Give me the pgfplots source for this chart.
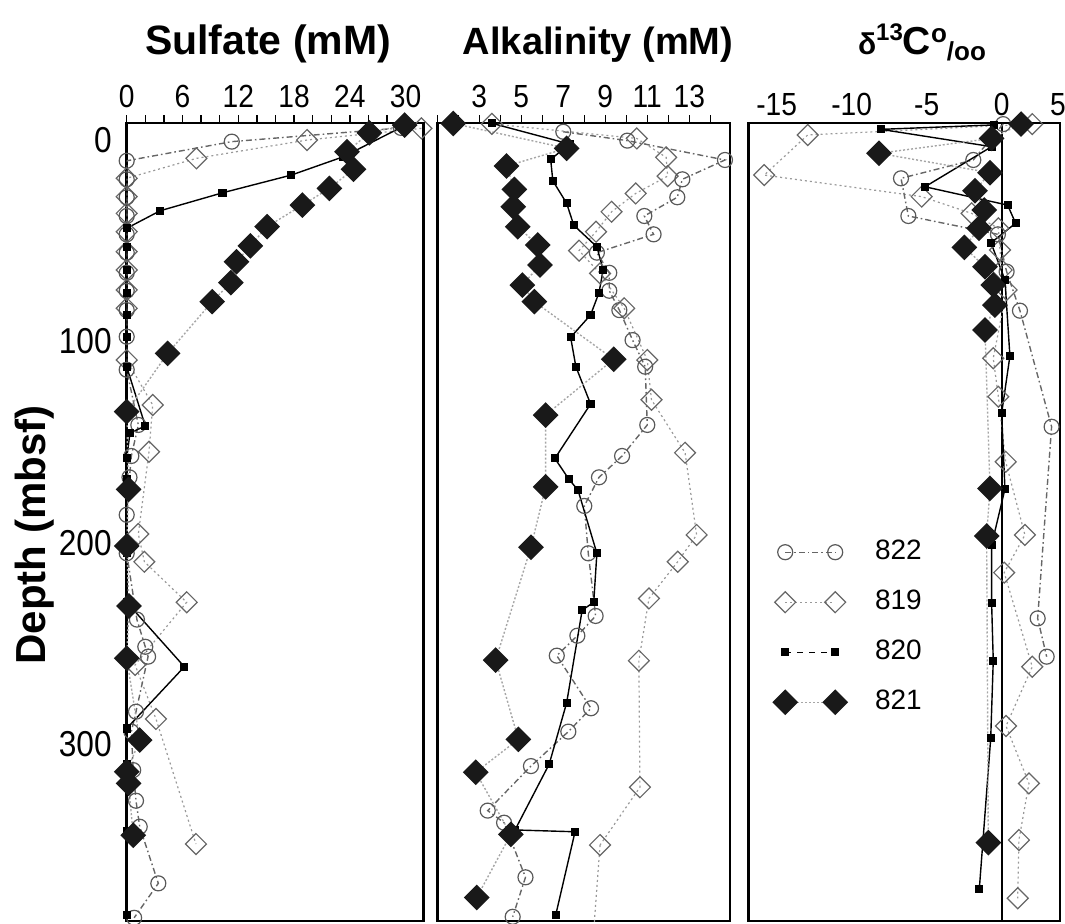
\documentclass[border=0pt]{standalone}
\usepackage{pgfplots}
\pgfplotsset{compat=1.18}
\usepackage{fontspec}
\setmainfont{Liberation Sans}
\newfontfamily\narrow[FakeStretch=0.88]{Liberation Sans}

\pgfplotsset{
  panel/.style={
    scale only axis, anchor=north west, height=399pt,
    y dir=reverse, ymin=-8.44, ymax=387.6,
    axis line style={line width=1.3pt},
    xtick pos=upper, xticklabel pos=upper,
    tick align=outside, major tick length=4pt,
    tick style={line width=0.7pt, black},
    ytick=\empty,
    tick label style={font=\narrow\fontsize{16}{18}\selectfont},
    legend image code/.code={\draw[mark repeat=2,mark phase=1,##1] plot coordinates {(0pt,0pt) (12.5pt,0pt) (25pt,0pt)};},
  },
  s822/.style={color=black!60, line width=0.7pt, dash pattern=on 3pt off 1.5pt on 0.8pt off 1.5pt,
    mark=o, mark size=3.75pt, mark options={solid, draw=black!65, line width=0.6pt}},
  s819/.style={color=black!40, line width=0.6pt, dash pattern=on 1pt off 1.5pt,
    mark=square, mark size=3.7pt, mark options={solid, rotate=45, draw=black!60, line width=0.6pt}},
  s820/.style={color=black, line width=0.7pt, solid,
    mark=square*, mark size=1.7pt, mark options={solid, fill=black}},
  s821/.style={color=black!35, line width=0.7pt, dash pattern=on 1pt off 1pt,
    mark=square*, mark size=4.2pt, mark options={solid, rotate=45, fill=black!90, draw=black!90}},
}

\begin{document}
\begin{tikzpicture}
\useasboundingbox (0pt,0pt) rectangle (532.5pt,-461.5pt);

% ---------------- Sulfate ----------------
\begin{axis}[panel, at={(63.35pt,-61.5pt)}, width=148.3pt,
  xmin=0, xmax=31.9,
  xtick={0,2,...,30}, xticklabels={0,,,6,,,12,,,18,,,24,,,30},
  ytick={0,100,200,300}, yticklabels={0,100,200,300},
  ytick style={draw=none},
  yticklabel style={font=\narrow\fontsize{18}{20}\selectfont},
]
\addplot[s819] coordinates {(31.7,-5.8)(19.4,0)(7.5,9.1)(0,19.0)(0,28.1)(0,36.4)(0,45.5)(0,55.4)(0,64.5)(0,74.4)(0,83.5)(0,109.2)(2.8,131.5)(2.4,154.7)(1.25,195.5)(1.9,209.3)(6.45,229.4)(0.9,260.5)(3.15,287.3)(7.45,349.4)};
\addplot[s822] coordinates {(29.5,-6)(11.3,0.8)(0,10.3)(0,19.5)(0,28.4)(0,37.7)(0,46.8)(0,55.9)(0,65.9)(0,74.8)(0,84.4)(0,97.6)(0,114)(1.25,141.4)(0.5,156.8)(0.3,167.4)(0,186)(0,205.1)(1.1,238)(2.0,251.5)(2.3,256.4)(1.0,283.7)(0.5,293.6)(0.7,312.7)(1.0,327.9)(1.4,340.8)(3.4,368.9)(0.8,386)};
\addplot[s820] coordinates {(29.6,-6.5)(23.3,8.3)(17.7,17.4)(10.3,26.2)(3.6,35.1)(0,43.8)(0,53)(0,64.5)(0,75.8)(0,86.8)(0,97.9)(0,112.5)(2.0,141.9)(0.35,145.4)(0,158)(0,168.4)(0,173.7)(0,205.1)(0,229.4)(6.2,261.4)(0,292)(0,309.7)(0,343)(0,384.6)};
\addplot[s821] coordinates {(29.9,-7.4)(26.1,-3.6)(23.7,5.8)(24.4,14.5)(21.8,24.0)(18.9,32.3)(15.1,43.0)(13.3,52.5)(11.8,60.4)(11.2,70.8)(9.2,80.2)(4.4,105.9)(0,134.8)(0.2,173.4)(0,201.5)(0.25,231.3)(0,257.2)(1.4,297.8)(0,313.5)(0.2,319.3)(0.7,345.0)};
\end{axis}

% ---------------- Alkalinity ----------------
\begin{axis}[panel, at={(218.65pt,-61.5pt)}, width=146.35pt,
  xmin=1, xmax=14.94,
  xtick={1,...,14}, xticklabels={,,3,,5,,7,,9,,11,,13,},
]
\addplot[s819] coordinates {(3.6,-8)(10.5,-0.8)(11.9,8.6)(11.97,17.9)(10.45,26.5)(9.3,35.6)(8.56,45.5)(7.75,54.9)(8.75,66.2)(9.9,83.5)(11.0,109.2)(11.2,128.9)(12.8,155.2)(13.35,196)(12.45,209.3)(11.08,227.5)(10.6,258.4)(10.65,321.2)(8.75,349.9)};
\addplot[s819, mark=none, forget plot] coordinates {(8.75,349.9)(8.43,395)};
\addplot[s822] coordinates {(7.0,-4.1)(10.05,0.3)(14.7,9.9)(12.67,19.5)(12.43,28.4)(10.86,37.7)(11.3,46.8)(8.6,55.9)(9.19,65.9)(9.19,74.8)(9.67,84.4)(10.3,99.3)(10.9,112.5)(11.0,141.4)(9.8,156.8)(8.7,167.4)(8.0,181.6)(8.19,205.1)(8.54,236.2)(7.67,246)(6.69,255.9)(8.32,282)(7.24,293.6)(5.46,310.7)(3.4,332.8)(4.18,338.8)(5.2,365.9)(4.59,385.5)};
\addplot[s820] coordinates {(3.6,-8.3)(7.3,2)(6.4,9.6)(6.5,20.2)(7.16,31.4)(7.5,42.3)(8.6,53.0)(8.9,64.5)(8.7,75.8)(8.3,86.8)(7.35,97.9)(7.6,112.5)(8.3,131.0)(6.6,158.0)(7.27,168.4)(7.7,173.7)(8.6,205.1)(8.45,229.4)(7.9,233.3)(7.16,279.3)(6.33,309.7)(4.7,342.4)(7.56,343.3)(6.64,384.6)};
\addplot[s821] coordinates {(1.76,-8.2)(7.16,4.1)(4.3,12.9)(4.67,24.5)(4.62,33.1)(4.83,43.0)(5.78,52.1)(5.89,62.0)(5.05,72.0)(5.62,80.2)(9.4,108.8)(6.16,136.5)(6.16,172.1)(5.46,202.1)(3.78,258.1)(4.86,297.4)(2.83,313.8)(4.5,344.6)(2.88,375.9)};
\end{axis}

% ---------------- delta 13C ----------------
\begin{axis}[panel, at={(374.15pt,-61.5pt)}, width=155.85pt,
  xmin=-16.89, xmax=3.89,
  xtick={-15,-10,-5,0}, xticklabels={-15,-10,-5,0},
  extra x ticks={3.75}, extra x tick labels={5},
  major tick length=0pt,
  legend style={draw=none, fill=none, at={(axis description cs:0.079,0.484)}, anchor=north west,
    font=\fontsize{14}{16}\selectfont, row sep=8pt, inner sep=0pt,
    nodes={inner sep=2pt, text height=10pt, text depth=3pt},
    /tikz/every odd column/.append style={column sep=12pt}},
  legend cell align=left,
]
\addplot[black, line width=0.85pt, forget plot] coordinates {(0,-8.44)(0,387.6)};
\addlegendimage{s822}
\addlegendentry{822}
\addlegendimage{s819}
\addlegendentry{819}
\addlegendimage{s820, dashed}
\addlegendentry{820}
\addlegendimage{s821}
\addlegendentry{821}
\addplot[s819, forget plot] coordinates {(2.04,-7.9)(-12.93,-2.5)(-15.83,17.4)(-5.33,28.1)(-2.0,36.4)(-0.22,43.8)(-0.11,54.6)(0,64.5)(0.33,74.4)(-0.56,108.3)(-0.22,127.4)(0.27,159.7)(1.55,196)(0.17,214.7)(2.04,261.4)(0.29,290.8)(1.82,319.3)(1.15,347.4)(1.07,376.3)};
\addplot[s822, forget plot] coordinates {(0.1,-7.9)(-1.89,9.9)(-6.71,19.0)(-6.22,37.7)(-0.25,46.8)(0.33,65.3)(1.22,84.7)(3.33,142.3)(2.4,237.4)(3.0,256.4)};
\addplot[s820, forget plot] coordinates {(-0.5,-7.5)(-8.05,-5.3)(-0.67,3.3)(-5.11,23.2)(0.4,32.3)(0.93,41.3)(-0.71,51)(0.22,69.5)(0.55,107.2)(0,135.6)(0.22,173.2)(-0.67,201)(-0.67,229.6)(-0.56,258.4)(-0.73,296.9)(-1.49,371.7)};
\addplot[s821, forget plot] coordinates {(1.29,-7.9)(-0.67,-0.8)(-8.18,6.6)(-0.78,16.2)(-1.78,25.2)(-1.16,34.7)(-1.51,43.8)(-2.49,53.3)(-1.11,62.9)(-0.56,72)(-0.45,81.9)(-1.11,94.3)(-0.78,172.9)(-1.0,196.5)(-0.89,348.7)};
\end{axis}

% titles
\node[anchor=base, font=\bfseries\fontsize{20.5}{23}\selectfont] at (134pt,-27pt) {Sulfate (mM)};
\node[anchor=base, font=\bfseries\fontsize{19}{22}\selectfont] at (299pt,-27pt) {Alkalinity (mM)};
\node[anchor=base, font=\bfseries\fontsize{19.5}{22}\selectfont] at (461pt,-27pt) {\raisebox{0pt}{\fontsize{15}{16}\selectfont δ}\raisebox{7pt}{\fontsize{12}{13}\selectfont 13}C\raisebox{6pt}{\fontsize{13}{14}\selectfont o}\raisebox{-3pt}{\fontsize{13}{14}\selectfont /oo}};
\node[rotate=90, anchor=base, font=\bfseries\fontsize{21}{24}\selectfont] at (23pt,-267.5pt) {Depth (mbsf)};
\end{tikzpicture}
\end{document}
